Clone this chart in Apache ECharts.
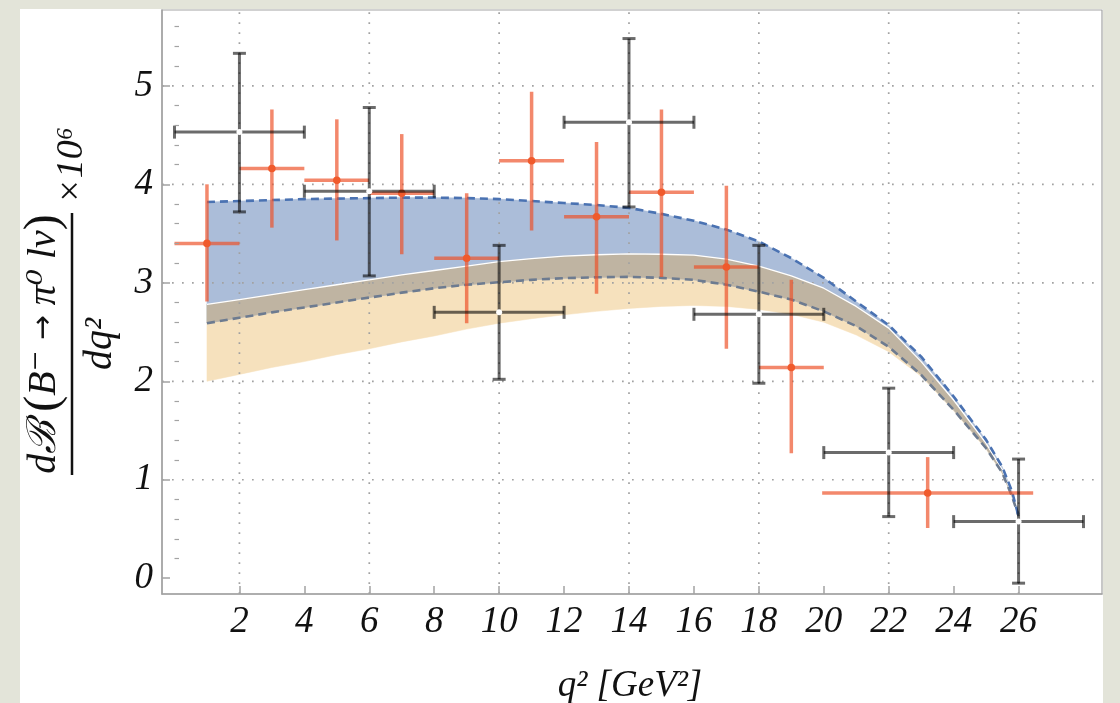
<!DOCTYPE html>
<html>
<head>
<meta charset="utf-8">
<script src="https://cdn.jsdelivr.net/npm/echarts@6/dist/echarts.min.js"></script>
<style>
html,body{margin:0;padding:0;background:#ffffff;}
#chart{width:1120px;height:703px;}
</style>
</head>
<body>
<div id="chart"></div>
<script>
// ---- tick values ----
var xTickValues = [2,4,6,8,10,12,14,16,18,20,22,24,26];
var xGridValues = [2,6,10,14,18,22,26];
var yTickValues = [0,1,2,3,4,5];
var yMinorTickValues = [0.2,0.4,0.6,0.8,1.2,1.4,1.6,1.8,2.2,2.4,2.6,2.8,3.2,3.4,3.6,3.8,4.2,4.4,4.6,4.8,5.2,5.4,5.6];
var yGridValues = [1,2,3,4,5];

// ---- theory bands (q^2 grid and curve values) ----
var qCurve      = [1,2,3,4,5,6,7,8,9,10,11,12,13,14,15,16,17,18,19,20,21,22,23,24,25,25.5,25.8,26];
var upperDashed = [3.82,3.83,3.84,3.85,3.855,3.86,3.865,3.865,3.86,3.85,3.83,3.81,3.79,3.76,3.70,3.63,3.54,3.42,3.25,3.05,2.81,2.57,2.25,1.845,1.405,1.13,0.88,0.63];
var whiteEdge   = [2.78,2.83,2.88,2.93,2.98,3.03,3.08,3.125,3.17,3.215,3.245,3.27,3.285,3.294,3.29,3.28,3.24,3.17,3.07,2.945,2.76,2.54,2.20,1.81,1.37,1.10,0.85,0.63];
var lowerDashed = [2.59,2.645,2.70,2.75,2.80,2.85,2.90,2.945,2.98,3.006,3.03,3.047,3.056,3.06,3.05,3.03,2.98,2.91,2.83,2.71,2.56,2.35,2.065,1.71,1.32,1.07,0.83,0.63];
var orangeLower = [2.00,2.07,2.14,2.20,2.27,2.33,2.40,2.46,2.53,2.59,2.635,2.675,2.71,2.74,2.76,2.77,2.76,2.73,2.68,2.60,2.47,2.30,2.05,1.70,1.31,1.06,0.82,0.63];

// ---- black data points ----
var blackX   = [2,6,10,14,18,22,26];
var blackY   = [4.53,3.93,2.70,4.63,2.68,1.276,0.575];
var blackXLo = [0,4,8,12,16,20,24];
var blackXHi = [4,8,12,16,20,24,28];
var blackYLo = [3.72,3.07,2.02,3.77,1.98,0.626,-0.05];
var blackYHi = [5.33,4.78,3.38,5.48,3.38,1.93,1.21];

// ---- orange data points ----
var orangeX   = [1,3,5,7,9,11,13,15,17,19,23.2];
var orangeY   = [3.40,4.16,4.04,3.91,3.25,4.24,3.67,3.92,3.16,2.14,0.865];
var orangeXLo = [0,2,4,6,8,10,12,14,16,18,19.95];
var orangeXHi = [2,4,6,8,10,12,14,16,18,20,26.45];
var orangeYLo = [2.81,3.56,3.43,3.29,2.59,3.53,2.89,3.06,2.33,1.27,0.51];
var orangeYHi = [4.00,4.76,4.66,4.51,3.91,4.94,4.43,4.76,3.985,3.03,1.23];

var chart = echarts.init(document.getElementById('chart'));

function pairs(xs, ys){ return xs.map(function(x,i){ return [x, ys[i]]; }); }
function errRows(x,y,xl,xh,yl,yh){ return x.map(function(v,i){ return [v,y[i],xl[i],xh[i],yl[i],yh[i]]; }); }

// band layers: [top curve, bottom curve, fill]
var bandLayers = [
  [whiteEdge, orangeLower, '#f6e1bd'],
  [upperDashed, lowerDashed, '#abbdd9'],
  [whiteEdge, lowerDashed, '#bfb4a2']
];

var AX = '#a3a3a3';
var FONT = '"Liberation Serif", "Times New Roman", serif';
var XMIN = -0.385, XMAX = 28.57, YMIN = -0.16, YMAX = 5.77;
var bg = '#e3e4d9';

function bandRenderer(params, api){
  var layer = bandLayers[params.dataIndex];
  var top = layer[0], bot = layer[1];
  var pts = [];
  for (var i = 0; i < qCurve.length; i++) pts.push(api.coord([qCurve[i], top[i]]));
  for (var j = qCurve.length - 1; j >= 0; j--) pts.push(api.coord([qCurve[j], bot[j]]));
  return {type:'polygon', shape:{points:pts}, style:{fill:layer[2], stroke:layer[2], lineWidth:0.5}};
}

var gridStyle = {stroke:'#a2a2a2', lineWidth:1.7, lineDash:[1.7,8.3], lineCap:'butt'};
function gridRenderer(params, api){
  var dir = api.value(0), v = api.value(1), p1, p2;
  if (dir === 0) { p1 = api.coord([v, YMIN]); p2 = api.coord([v, YMAX]); }
  else { p1 = api.coord([XMIN, v]); p2 = api.coord([XMAX, v]); }
  return {type:'line', shape:{x1:p1[0],y1:p1[1],x2:p2[0],y2:p2[1]}, style:gridStyle};
}
var gridRows = xGridValues.map(function(v){ return [0, v]; }).concat(yGridValues.map(function(v){ return [1, v]; }));

function errorRenderer(kind){
  return function(params, api){
    var x = api.value(0), y = api.value(1);
    var c = api.coord([x,y]);
    var l = api.coord([api.value(2), y]);
    var r = api.coord([api.value(3), y]);
    var b = api.coord([x, api.value(4)]);
    var t = api.coord([x, api.value(5)]);
    var kids = [];
    if (kind === 'black') {
      var st = {stroke:'rgba(0,0,0,0.58)', lineWidth:3};
      var cap = 6.5;
      kids.push({type:'line', shape:{x1:l[0],y1:c[1],x2:r[0],y2:c[1]}, style:st});
      kids.push({type:'line', shape:{x1:c[0],y1:t[1],x2:c[0],y2:b[1]}, style:st});
      kids.push({type:'line', shape:{x1:l[0],y1:c[1]-cap,x2:l[0],y2:c[1]+cap}, style:st});
      kids.push({type:'line', shape:{x1:r[0],y1:c[1]-cap,x2:r[0],y2:c[1]+cap}, style:st});
      kids.push({type:'line', shape:{x1:c[0]-cap,y1:t[1],x2:c[0]+cap,y2:t[1]}, style:st});
      kids.push({type:'line', shape:{x1:c[0]-cap,y1:b[1],x2:c[0]+cap,y2:b[1]}, style:st});
      kids.push({type:'circle', shape:{cx:c[0],cy:c[1],r:3}, style:{fill:'#ffffff'}});
    } else {
      var so = {stroke:'rgba(238,80,38,0.68)', lineWidth:3.5};
      kids.push({type:'line', shape:{x1:l[0],y1:c[1],x2:r[0],y2:c[1]}, style:so});
      kids.push({type:'line', shape:{x1:c[0],y1:t[1],x2:c[0],y2:b[1]}, style:so});
      kids.push({type:'circle', shape:{cx:c[0],cy:c[1],r:3.8}, style:{fill:'#f05a2c'}});
    }
    return {type:'group', children:kids};
  };
}

var SERIF_I = 'italic 40px "Liberation Serif", "DejaVu Serif", serif';
var numeratorRich = {
  i:  {fontFamily:'"Liberation Serif", "DejaVu Serif", serif', fontStyle:'italic', fontSize:40, color:'#111', fill:'#111'},
  p:  {fontFamily:'"Liberation Serif", serif', fontSize:48, color:'#111', fill:'#111'},
  ar: {fontFamily:'"DejaVu Sans", sans-serif', fontSize:30, color:'#111', fill:'#111'}
};

var option = {
  backgroundColor: '#ffffff',
  animation: false,
  grid: {left:162, right:18, top:10, bottom:109, show:true, borderColor:AX, borderWidth:1.2, backgroundColor:'transparent', containLabel:false, outerBoundsMode:'none'},
  xAxis: [
    {type:'value', min:XMIN, max:XMAX, position:'bottom', z:6,
     axisLine:{show:true, onZero:false, lineStyle:{color:AX, width:1.5}},
     axisTick:{show:true, inside:true, length:8, customValues:xTickValues, lineStyle:{color:AX, width:1.5}},
     axisLabel:{show:true, customValues:xTickValues, margin:10, fontFamily:FONT, fontStyle:'italic', fontSize:37, color:'#111'},
     splitLine:{show:false}}
  ],
  yAxis: [
    {type:'value', min:YMIN, max:YMAX, position:'left', z:6,
     axisLine:{show:true, onZero:false, lineStyle:{color:AX, width:1.5}},
     axisTick:{show:true, inside:true, length:8, customValues:yTickValues, lineStyle:{color:AX, width:1.5}},
     axisLabel:{show:true, customValues:yTickValues, margin:9, fontFamily:FONT, fontStyle:'italic', fontSize:37, color:'#111'},
     splitLine:{show:false}},
    {type:'value', min:YMIN, max:YMAX, position:'left', z:6,
     axisLine:{show:false}, axisLabel:{show:false},
     axisTick:{show:true, inside:true, length:4.5, customValues:yMinorTickValues, lineStyle:{color:AX, width:1.2}},
     splitLine:{show:false}}
  ],
  series: [
    {name:'bands', type:'custom', renderItem:bandRenderer, data:bandLayers.map(function(b,i){ return [qCurve[0], i]; }), z:1, silent:true},
    {name:'grid', type:'custom', renderItem:gridRenderer, data:gridRows, encode:{x:-1, y:-1}, z:2, silent:true},
    {name:'whiteEdge', type:'line', data:pairs(qCurve, whiteEdge), symbol:'none', lineStyle:{color:'#ffffff', width:1.3}, z:3},
    {name:'lowerDashed', type:'line', data:pairs(qCurve, lowerDashed), symbol:'none', lineStyle:{color:'#6d7b90', width:2.6, type:[8,5]}, z:3},
    {name:'upperDashed', type:'line', data:pairs(qCurve, upperDashed), symbol:'none', lineStyle:{color:'#4a72b2', width:2.6, type:[8,5]}, z:3},
    {name:'orangePts', type:'custom', renderItem:errorRenderer('orange'), data:errRows(orangeX,orangeY,orangeXLo,orangeXHi,orangeYLo,orangeYHi), z:4, clip:false},
    {name:'blackPts', type:'custom', renderItem:errorRenderer('black'), data:errRows(blackX,blackY,blackXLo,blackXHi,blackYLo,blackYHi), z:5, clip:false}
  ],
  graphic: [
    {type:'rect', shape:{x:0,y:0,width:20,height:703}, style:{fill:bg}, silent:true},
    {type:'rect', shape:{x:0,y:0,width:1120,height:9}, style:{fill:bg}, silent:true},
    {type:'rect', shape:{x:1103,y:0,width:17,height:703}, style:{fill:bg}, silent:true},
    {type:'group', x:72, y:344, rotation:Math.PI/2, silent:true, children:[
      {type:'text', x:0, y:-28, style:{text:'{i|d\u212C\u2009}{p|(}{i|B\u207B }{ar|\u2192}{i| \u03C0\u2070 l\u03BD}{p|)}', rich:numeratorRich, textAlign:'center', textVerticalAlign:'middle', align:'center', verticalAlign:'middle', fill:'#111'}},
      {type:'line', shape:{x1:-131,y1:0,x2:131,y2:0}, style:{stroke:'#111', lineWidth:2.5}},
      {type:'text', x:0, y:28, style:{text:'dq\u00B2', font:SERIF_I, textAlign:'center', textVerticalAlign:'middle', align:'center', verticalAlign:'middle', fill:'#111'}},
      {type:'text', x:140, y:0, style:{text:'\u00D710\u2076', font:'italic 38px "Liberation Serif", "DejaVu Serif", serif', textAlign:'left', textVerticalAlign:'middle', align:'left', verticalAlign:'middle', fill:'#111'}}
    ]},
    {type:'text', x:630, y:686, silent:true, style:{text:'q\u00B2 [GeV\u00B2]', font:'italic 37px "Liberation Serif", "DejaVu Serif", serif', textAlign:'center', textVerticalAlign:'middle', align:'center', verticalAlign:'middle', fill:'#111'}}
  ]
};
chart.setOption(option);
</script>
</body>
</html>
